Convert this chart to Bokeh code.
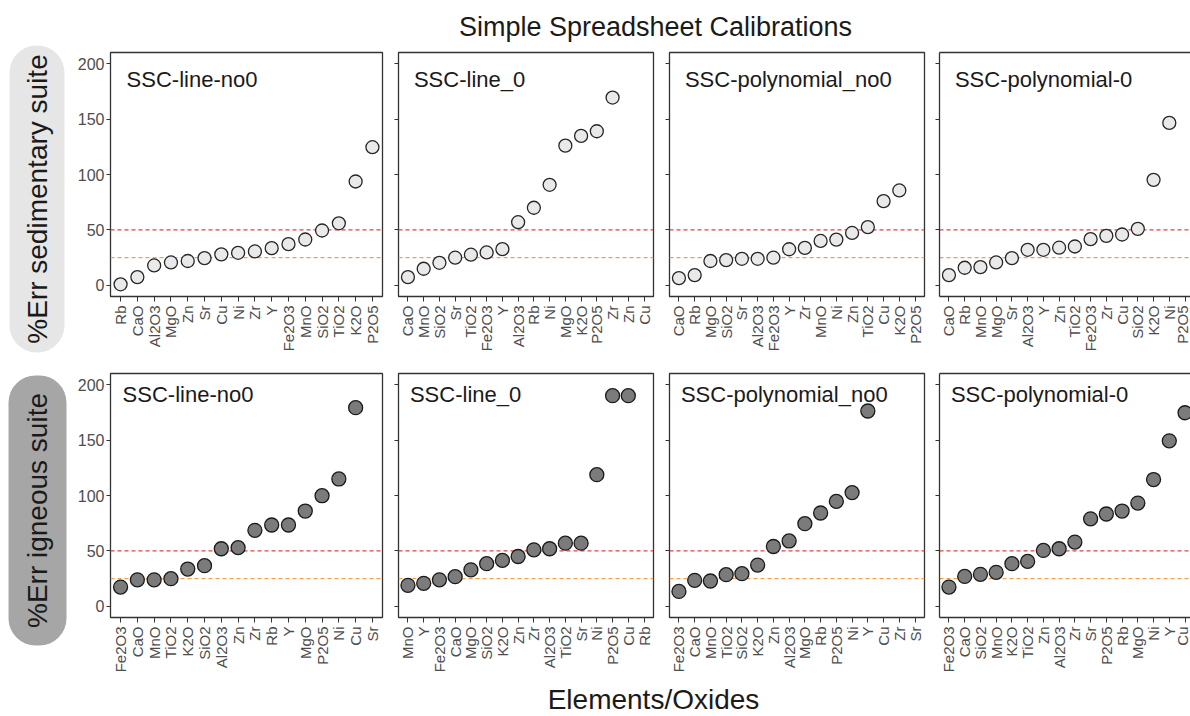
import math

from bokeh.core.properties import value
from bokeh.embed import file_html
from bokeh.layouts import column, row
from bokeh.models import FixedTicker, LinearAxis, Range1d, Span
from bokeh.plotting import figure
from bokeh.resources import INLINE

NAN = float("nan")

# ---- sedimentary suite: %Err per element/oxide, sorted per calibration ----
sed_line_no0_cats = ["Rb", "CaO", "Al2O3", "MgO", "Zn", "Sr", "Cu", "Ni", "Zr", "Y",
                     "Fe2O3", "MnO", "SiO2", "TiO2", "K2O", "P2O5"]
sed_line_no0_vals = [1, 7.5, 18, 20.7, 22, 24.6, 28, 29.4, 30.6, 33.6,
                     37.2, 41.4, 49.5, 56, 93.7, 124.6]

sed_line_0_cats = ["CaO", "MnO", "SiO2", "Sr", "TiO2", "Fe2O3", "Y", "Al2O3", "Rb", "Ni",
                   "MgO", "K2O", "P2O5", "Zr", "Zn", "Cu"]
sed_line_0_vals = [7.5, 15, 20.4, 25, 27.7, 29.7, 32.7, 57, 70, 90.7,
                   126, 134.8, 139, 169.4, NAN, NAN]

sed_poly_no0_cats = ["CaO", "Rb", "MgO", "SiO2", "Sr", "Al2O3", "Fe2O3", "Y", "Zr", "MnO",
                     "Ni", "Zn", "TiO2", "Cu", "K2O", "P2O5"]
sed_poly_no0_vals = [6.6, 9.3, 22, 22.8, 24, 24, 25, 32.6, 33.8, 40.1,
                     41.3, 47.3, 52.6, 76, 85.6, NAN]

sed_poly_0_cats = ["CaO", "Rb", "MnO", "MgO", "Sr", "Al2O3", "Y", "Zn", "TiO2", "Fe2O3",
                   "Zr", "Cu", "SiO2", "K2O", "Ni", "P2O5"]
sed_poly_0_vals = [9.3, 15.9, 16.5, 20.7, 24.6, 32.1, 32.1, 34, 35.1, 41.7,
                   44.7, 45.9, 51, 95.2, 146.5, NAN]

# ---- igneous suite ----
ign_line_no0_cats = ["Fe2O3", "CaO", "MnO", "TiO2", "K2O", "SiO2", "Al2O3", "Zn", "Zr", "Rb",
                     "Y", "MgO", "P2O5", "Ni", "Cu", "Sr"]
ign_line_no0_vals = [17.4, 24, 24, 25, 33.7, 36.7, 52, 53, 68.6, 73.4,
                     73.4, 86, 99.8, 114.9, 179.2, NAN]

ign_line_0_cats = ["MnO", "Y", "Fe2O3", "CaO", "MgO", "SiO2", "K2O", "Zn", "Zr", "Al2O3",
                   "TiO2", "Sr", "Ni", "P2O5", "Cu", "Rb"]
ign_line_0_vals = [19, 20.8, 24, 26.8, 33, 38.5, 41.5, 45, 51, 52,
                   57, 57, 118.8, 190, 190, NAN]

ign_poly_no0_cats = ["Fe2O3", "CaO", "MnO", "TiO2", "SiO2", "K2O", "Zn", "Al2O3", "MgO", "Rb",
                     "P2O5", "Ni", "Y", "Cu", "Zr", "Sr"]
ign_poly_no0_vals = [13.5, 23.5, 22.9, 28.6, 29.5, 37.3, 54, 59, 74.6, 84.2,
                     94.7, 102.6, 176.2, NAN, NAN, NAN]

ign_poly_0_cats = ["Fe2O3", "CaO", "SiO2", "MnO", "K2O", "TiO2", "Zn", "Al2O3", "Zr", "Sr",
                   "P2O5", "Rb", "MgO", "Ni", "Y", "Cu"]
ign_poly_0_vals = [17.4, 27, 28.9, 30.7, 38.5, 40.6, 50.5, 52, 58, 79,
                   83.3, 86, 93.2, 114.4, 149.3, 174.6]

panel_names = ["SSC-line-no0", "SSC-line_0", "SSC-polynomial_no0", "SSC-polynomial-0"]
row_titles = ["%Err sedimentary suite", "%Err igneous suite"]
row_title_fills = ["#e6e6e6", "#a6a6a6"]
y_ticks = [0, 50, 100, 150, 200]
thresholds = [50, 25]
threshold_colors = ["#e2453c", "#f2a14a"]

FONT = "Liberation Sans"
PAGE_H = 716
FRAME_H = 244
FRAME_COLOR = "#333333"
TICK_LABEL_COLOR = "#4d4d4d"


def blank_figure(width, height):
    f = figure(width=width, height=height, x_range=Range1d(0, width), y_range=Range1d(0, height),
               output_backend="svg", toolbar_location=None, min_border=0,
               x_axis_type=None, y_axis_type=None, outline_line_color=None,
               background_fill_color="white", border_fill_color="white")
    f.xgrid.visible = False
    f.ygrid.visible = False
    return f


def panel(cats, vals, name, width, left, right, top, bottom, style, label_y, label_dx,
          show_y_labels, x_end=None, open_right=False):
    xs = list(range(1, len(cats) + 1))
    if x_end is None:
        x_end = len(cats) + 0.6
    p = figure(width=width, height=top + FRAME_H + bottom,
               x_range=Range1d(0.4, x_end), y_range=Range1d(-10, 210),
               output_backend="svg", toolbar_location=None,
               min_border_left=left, min_border_right=right,
               min_border_top=top, min_border_bottom=bottom,
               background_fill_color="white", border_fill_color="white")
    p.xgrid.visible = False
    p.ygrid.visible = False

    # x axis: one tick per element/oxide, labels rotated
    xa = p.xaxis[0]
    xa.ticker = FixedTicker(ticks=xs)
    xa.major_label_overrides = {x: c for x, c in zip(xs, cats)}
    xa.major_label_orientation = math.pi / 2
    xa.major_label_text_font = FONT
    xa.major_label_text_font_size = "15px"
    xa.major_label_text_color = TICK_LABEL_COLOR
    xa.major_label_standoff = 4
    xa.major_tick_out = 5
    xa.major_tick_in = 0
    xa.major_tick_line_color = FRAME_COLOR
    xa.minor_tick_line_color = None

    ya = p.yaxis[0]
    ya.ticker = FixedTicker(ticks=y_ticks)
    ya.major_label_text_font = FONT
    ya.major_label_text_font_size = "16px"
    ya.major_label_text_color = TICK_LABEL_COLOR
    ya.major_tick_out = 4
    ya.major_tick_in = 0
    ya.major_tick_line_color = FRAME_COLOR
    ya.minor_tick_line_color = None
    if show_y_labels:
        ya.major_label_standoff = 2
    else:
        ya.major_label_standoff = 0
        ya.major_label_overrides = {t: "" for t in y_ticks}

    if open_right:
        # panel runs off the right edge: draw left, bottom and top borders only
        p.outline_line_color = None
        for ax in (xa, ya):
            ax.axis_line_color = FRAME_COLOR
            ax.axis_line_width = 1.3
        top_axis = LinearAxis(ticker=FixedTicker(ticks=[]), major_tick_out=0, major_tick_in=0,
                              major_label_standoff=0, minor_tick_line_color=None,
                              axis_line_color=FRAME_COLOR, axis_line_width=1.3)
        p.add_layout(top_axis, "above")
    else:
        p.outline_line_color = FRAME_COLOR
        p.outline_line_width = 1.3
        xa.axis_line_color = None
        ya.axis_line_color = None

    for level, col in zip(thresholds, threshold_colors):
        p.add_layout(Span(location=level, dimension="width", line_color=col,
                          line_dash="4 3", line_width=1.3, level="underlay"))

    p.scatter(x=xs, y=vals, size=style["size"], fill_color=style["fill"],
              line_color=style["line"], line_width=1.3)

    p.text(x=[1], y=[label_y], text=[name], x_offset=label_dx,
           text_font=value(FONT), text_font_size="22px", text_color="#1a1a1a",
           text_align="left", text_baseline="alphabetic")
    return p


def text_band(label, width, height, x, baseline_from_top, size):
    t = blank_figure(width, height)
    t.text(x=[x], y=[height - baseline_from_top], text=[label],
           text_font=value(FONT), text_font_size=size, text_color="#1a1a1a",
           text_align="center", text_baseline="alphabetic")
    return t


# left strip with the two rounded row tags, in page pixel coordinates (y up)
strip = blank_figure(70, PAGE_H)
tag_boxes = [(9, 64, 45, 352), (8, 66, 375, 645)]   # left, right, top, bottom (from page top)
for (l, r, t, b), fill, label in zip(tag_boxes, row_title_fills, row_titles):
    strip.quad(left=[l], right=[r], top=[PAGE_H - t], bottom=[PAGE_H - b],
               fill_color=fill, line_color=None, border_radius=27)
    strip.text(x=[(l + r) / 2], y=[PAGE_H - (t + b) / 2], text=[label], angle=math.pi / 2,
               text_font=value(FONT), text_font_size="28px", text_color="#1a1a1a",
               text_align="center", text_baseline="middle")

open_style = {"size": 13, "fill": "#e9e9e9", "line": "#262626"}
filled_style = {"size": 14, "fill": "#7b7b7b", "line": "#1a1a1a"}

sed_sets = [(sed_line_no0_cats, sed_line_no0_vals), (sed_line_0_cats, sed_line_0_vals),
            (sed_poly_no0_cats, sed_poly_no0_vals), (sed_poly_0_cats, sed_poly_0_vals)]
ign_sets = [(ign_line_no0_cats, ign_line_no0_vals), (ign_line_0_cats, ign_line_0_vals),
            (ign_poly_no0_cats, ign_poly_no0_vals), (ign_poly_0_cats, ign_poly_0_vals)]

# column geometry: (figure width, left border, right border)
col_geom = [(320, 40, 8), (271, 8, 8), (271, 8, 8), (258, 7, 0)]
last_x_end = 0.4 + 251 / 15.74


def build_row(sets, style, top, bottom, label_y, label_dx):
    figs = []
    for i, ((cats, vals), name) in enumerate(zip(sets, panel_names)):
        w, l, r = col_geom[i]
        last = i == len(sets) - 1
        figs.append(panel(cats, vals, name, w, l, r, top, bottom, style, label_y, label_dx,
                          show_y_labels=(i == 0), x_end=last_x_end if last else None,
                          open_right=last))
    return figs


top_figs = build_row(sed_sets, open_style, 7, 70, 186.0, 6)
bot_figs = build_row(ign_sets, filled_style, 7, 58, 191.0, 2)

MAIN_W = 1120
title_band = text_band("Simple Spreadsheet Calibrations", MAIN_W, 45, 655 - 70, 26, "27px")
xlabel_band = text_band("Elements/Oxides", MAIN_W, 41, 653 - 70, 24, "28px")

layout = row(strip, column(title_band, row(*top_figs), row(*bot_figs), xlabel_band))

open("out.html", "w").write(file_html(layout, INLINE))
